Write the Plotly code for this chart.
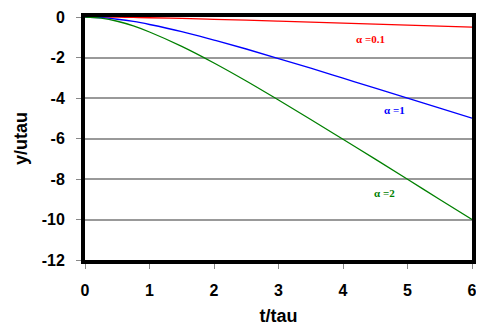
import plotly.graph_objects as go

t = [0, 0.25, 0.5, 0.75, 1, 1.5, 2, 2.5, 3, 3.5, 4, 4.5, 5, 5.5, 6]
y_a01 = [0, -0.003, -0.011, -0.022, -0.037, -0.072, -0.114, -0.158, -0.205, -0.253, -0.302, -0.351, -0.401, -0.450, -0.500]
y_a1 = [0, -0.03, -0.11, -0.22, -0.37, -0.72, -1.14, -1.58, -2.05, -2.53, -3.02, -3.51, -4.01, -4.50, -5.00]
y_a2 = [0, -0.06, -0.21, -0.44, -0.74, -1.45, -2.27, -3.16, -4.10, -5.06, -6.04, -7.02, -8.01, -9.01, -10.00]

series = [("α =0.1", y_a01, "#ff0000", 4.42, -1.1),
          ("α =1", y_a1, "#0000ff", 4.8, -4.6),
          ("α =2", y_a2, "#008000", 4.65, -8.7)]

x_ticks = [0, 1, 2, 3, 4, 5, 6]
y_ticks = [0, -2, -4, -6, -8, -10, -12]

fig = go.Figure()
for name, ys, col, lx, ly in series:
    fig.add_trace(go.Scatter(x=t, y=ys, mode="lines", name=name,
                             line=dict(color=col, width=1.3, shape="spline"),
                             showlegend=False))
    fig.add_annotation(x=lx, y=ly, text="<b>" + name + "</b>", showarrow=False,
                       font=dict(family="Liberation Serif", size=11, color=col))

fig.update_layout(
    width=476, height=318,
    margin=dict(l=77, r=12, t=9, b=66),
    plot_bgcolor="white", paper_bgcolor="white",
    font=dict(family="Liberation Sans", color="black"),
)
fig.update_xaxes(range=[0, 6], tickvals=x_ticks, ticktext=["<b>%d</b>" % v for v in x_ticks],
                 showgrid=False, zeroline=False, automargin=False,
                 ticklabeloverflow="allow",
                 showline=True, linecolor="black", linewidth=4, mirror=True,
                 ticks="outside", ticklen=5, tickcolor="#888888", tickwidth=1,
                 ticklabelstandoff=8,
                 tickfont=dict(size=16, family="Liberation Sans", color="black"),
                 title=dict(text="<b>t/tau</b>", font=dict(size=18), standoff=12))
fig.update_yaxes(range=[-12, 0], tickvals=y_ticks, ticktext=["<b>%d</b>" % v for v in y_ticks],
                 showgrid=True, gridcolor="#999999", gridwidth=1.5, zeroline=False,
                 automargin=False,
                 showline=True, linecolor="black", linewidth=4, mirror=True,
                 ticks="outside", ticklen=5, tickcolor="#888888", tickwidth=1,
                 ticklabelstandoff=8,
                 tickfont=dict(size=16, family="Liberation Sans", color="black"),
                 title=dict(text="<b>y/utau</b>", font=dict(size=18), standoff=10))

fig.write_html("out.html")
